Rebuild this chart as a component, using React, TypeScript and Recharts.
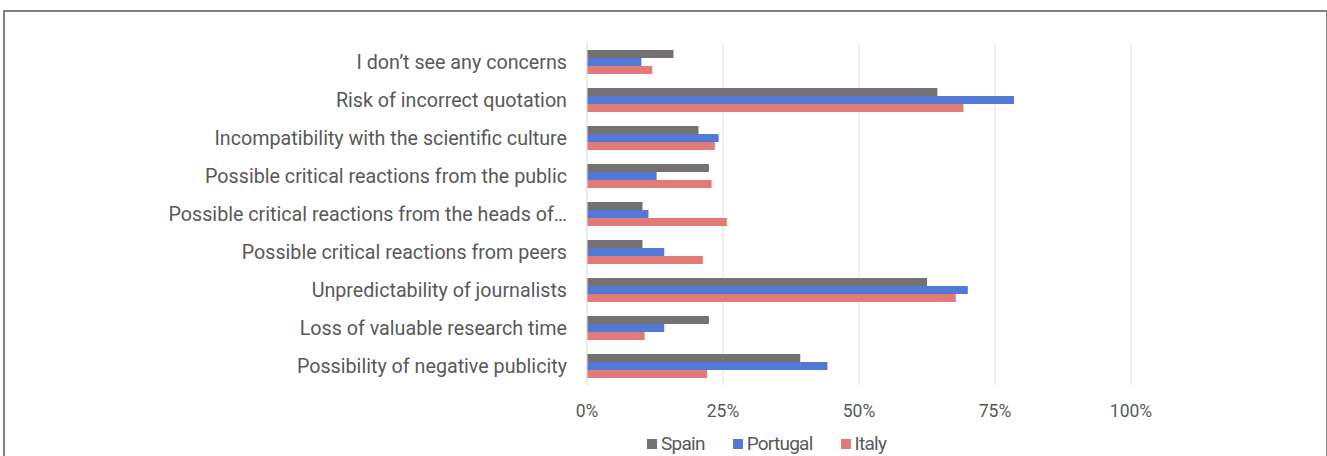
import React from 'react';
import { BarChart, Bar, XAxis, YAxis, CartesianGrid, Legend } from 'recharts';

// concerns, top to bottom as shown
const concerns = [
  'I don’t see any concerns',
  'Risk of incorrect quotation',
  'Incompatibility with the scientific culture',
  'Possible critical reactions from the public',
  'Possible critical reactions from the heads of…',
  'Possible critical reactions from peers',
  'Unpredictability of journalists',
  'Loss of valuable research time',
  'Possibility of negative publicity',
];

// share of respondents (%)
const spain = [15.9, 64.4, 20.5, 22.4, 10.2, 10.2, 62.5, 22.4, 39.2];
const portugal = [10.0, 78.5, 24.2, 12.8, 11.3, 14.2, 70.0, 14.2, 44.2];
const italy = [12.0, 69.2, 23.5, 22.9, 25.7, 21.3, 67.8, 10.6, 22.1];

const xTicks = [0, 25, 50, 75, 100];

const series = [
  { key: 'Spain', color: '#767171' },
  { key: 'Portugal', color: '#5279d3' },
  { key: 'Italy', color: '#e27b77' },
];

const data = concerns.map((c, i) => ({
  concern: c,
  Spain: spain[i],
  Portugal: portugal[i],
  Italy: italy[i],
}));

const textColor = '#595959';
const font = 'Roboto, "Open Sans", sans-serif';

const renderLegend = () => (
  <div
    style={{
      display: 'flex',
      paddingLeft: 647,
      fontFamily: font,
      fontSize: 19,
      letterSpacing: -0.75,
      color: textColor,
      lineHeight: '22px',
    }}
  >
    {series.map((s) => (
      <div key={s.key} style={{ display: 'flex', alignItems: 'center', marginRight: 28 }}>
        <span style={{ width: 10, height: 10, background: s.color, display: 'inline-block', marginRight: 4 }} />
        <span>{s.key}</span>
      </div>
    ))}
  </div>
);

export default function App() {
  return (
    <div style={{ position: 'absolute', left: 0, top: 0, width: 1327, height: 456, overflow: 'hidden', background: '#fff' }}>
      <div
        style={{
          position: 'absolute',
          left: 3,
          top: 10,
          width: 1321,
          height: 480,
          border: '2px solid #808080',
        }}
      />
      <div style={{ position: 'absolute', left: 0, top: 0 }}>
        <BarChart
          width={1327}
          height={456}
          data={data}
          layout="vertical"
          margin={{ top: 43, right: 196, left: 0, bottom: 19 }}
          barCategoryGap={7}
          barGap={0}
        >
          <CartesianGrid horizontal={false} stroke="#e3e3e3" />
          <XAxis
            type="number"
            domain={[0, 100]}
            ticks={xTicks}
            tickFormatter={(v) => `${v}%`}
            axisLine={false}
            tickLine={false}
            tickSize={6}
            tickMargin={14}
            tick={{ fill: textColor, fontSize: 17.5, fontFamily: font }}
            height={30}
          />
          <YAxis
            type="category"
            dataKey="concern"
            width={587}
            axisLine={{ stroke: '#e3e3e3' }}
            tickLine={false}
            tickSize={6}
            tickMargin={14}
            interval={0}
            tick={{ fill: textColor, fontSize: 19.7, fontFamily: font }}
          />
          <Legend content={renderLegend} wrapperStyle={{ top: 433, left: 0, width: 1327 }} />
          {series.map((s) => (
            <Bar key={s.key} dataKey={s.key} fill={s.color} isAnimationActive={false} />
          ))}
        </BarChart>
      </div>
    </div>
  );
}
